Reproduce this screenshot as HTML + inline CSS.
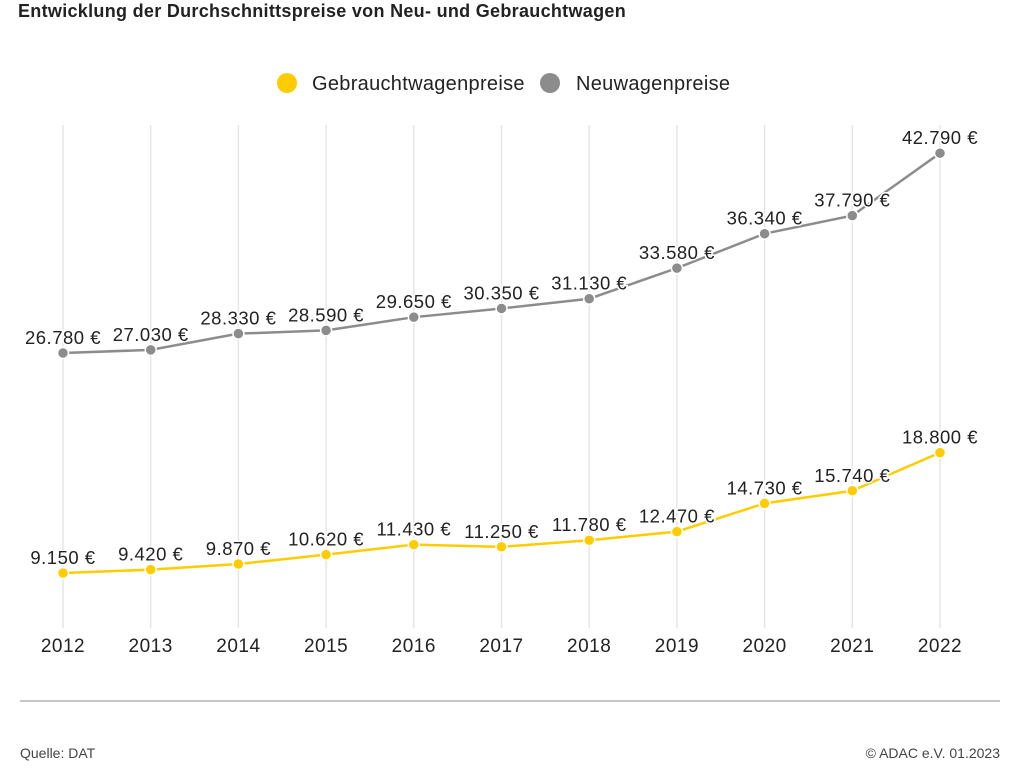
<!DOCTYPE html>
<html><head><meta charset="utf-8"><style>
body{margin:0;background:#fff;width:1024px;height:768px;overflow:hidden;font-family:"Liberation Sans",sans-serif;color:#222}
.t{position:absolute;left:18px;top:1px;font-family:"Liberation Sans",sans-serif;font-weight:bold;font-size:18px;color:#222;letter-spacing:0.3px}
</style></head><body>
<div class="t">Entwicklung der Durchschnittspreise von Neu- und Gebrauchtwagen</div>
<svg id="c" width="1024" height="768" style="position:absolute;left:0;top:0"></svg>
<script>
const years=[2012,2013,2014,2015,2016,2017,2018,2019,2020,2021,2022];
const neu=[26780,27030,28330,28590,29650,30350,31130,33580,36340,37790,42790];
const gebraucht=[9150,9420,9870,10620,11430,11250,11780,12470,14730,15740,18800];
const svg=document.getElementById('c');const NS='http://www.w3.org/2000/svg';
const x=i=>63+i*87.7;
const y=v=>353+(26780-v)*0.01248;
const fmt=v=>v.toLocaleString('de-DE').replace(/,/g,'.')+' €';
function mk(t,a,p){const e=document.createElementNS(NS,t);for(const k in a)e.setAttribute(k,a[k]);(p||svg).appendChild(e);return e;}
years.forEach((yr,i)=>{
 const g=mk('line',{x1:x(i),x2:x(i),y1:125,y2:628,stroke:'#e6e6e6','stroke-width':1.5});
 
 
 const t=mk('text',{x:x(i),y:652,'text-anchor':'middle','font-size':19,'letter-spacing':0.5,fill:'#222','font-family':'Liberation Sans, sans-serif'});
 t.textContent=yr;
 
 
});
function series(vals,col,name){
 const p=mk('polyline',{points:vals.map((v,i)=>x(i)+','+y(v)).join(' '),fill:'none',stroke:col,'stroke-width':2.5});
 
 
 vals.forEach((v,i)=>{
  const c=mk('circle',{cx:x(i),cy:y(v),r:5.5,fill:col,stroke:'#fff','stroke-width':1.5});
  
  
  const t=mk('text',{x:x(i),y:y(v)-9,'text-anchor':'middle','font-size':18.5,'letter-spacing':0.5,fill:'#222','font-family':'Liberation Sans, sans-serif',stroke:'#fff','stroke-width':3,'paint-order':'stroke'});
  t.textContent=fmt(v);
  
  
 });
}
series(neu,'#8c8c8c','neuwagen');
series(gebraucht,'#ffcc00','gebrauchtwagen');
const l1=mk('circle',{cx:287,cy:83,r:10,fill:'#ffcc00'});


const lt1=mk('text',{x:312,y:90,'font-size':20,'letter-spacing':0.3,fill:'#222','font-family':'Liberation Sans, sans-serif'});lt1.textContent='Gebrauchtwagenpreise';


const l2=mk('circle',{cx:550,cy:83,r:10,fill:'#8c8c8c'});


const lt2=mk('text',{x:576,y:90,'font-size':20,'letter-spacing':0.3,fill:'#222','font-family':'Liberation Sans, sans-serif'});lt2.textContent='Neuwagenpreise';


const sep=mk('line',{x1:20,x2:1000,y1:701,y2:701,stroke:'#c8c8c8','stroke-width':2});


const f1=mk('text',{x:20,y:758,'font-size':14,fill:'#444','font-family':'Liberation Sans, sans-serif'});f1.textContent='Quelle: DAT';


const f2=mk('text',{x:1000,y:758,'text-anchor':'end','font-size':14,fill:'#444','font-family':'Liberation Sans, sans-serif'});f2.textContent='© ADAC e.V. 01.2023';


</script>
</body></html>
